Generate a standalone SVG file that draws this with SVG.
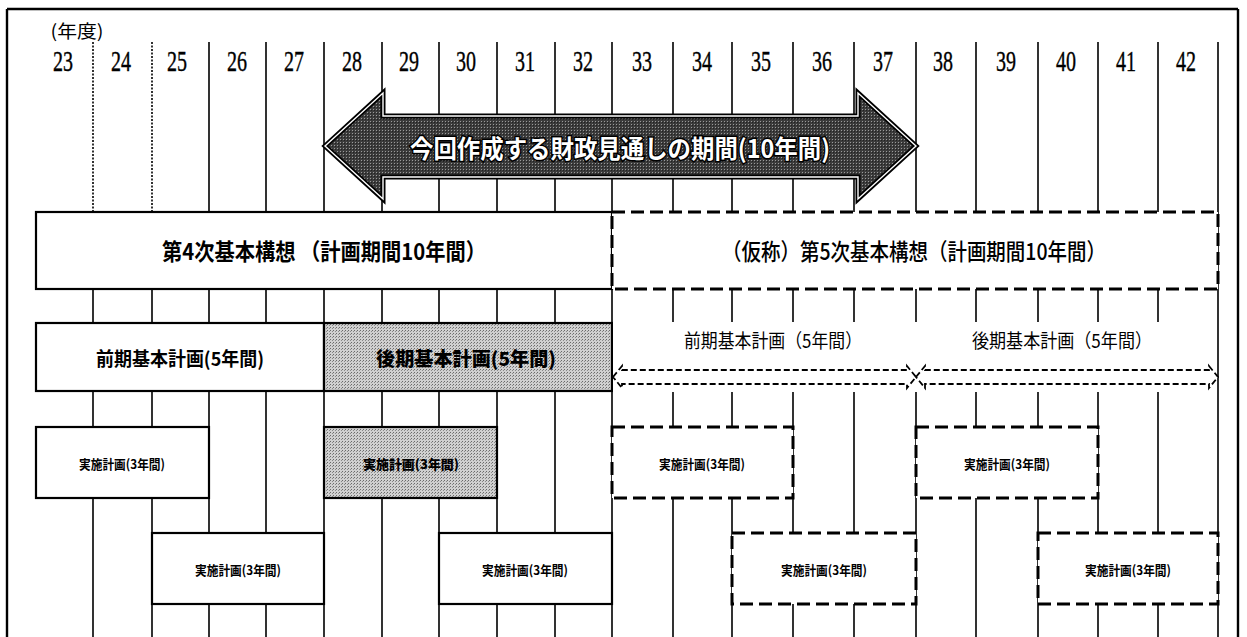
<svg xmlns="http://www.w3.org/2000/svg" width="1247" height="637" viewBox="0 0 1247 637">
<style>
.bg{fill:#fff}
.col{stroke:#000;stroke-width:1.6;fill:none}
.dot{stroke:#000;stroke-width:1.6;stroke-dasharray:2 1.5;fill:none}
.box{fill:#fff;stroke:#000;stroke-width:2.2}
.dbox{fill:#fff;stroke:#000;stroke-width:3;stroke-dasharray:13 6}
.sbox{fill:url(#shade);stroke:#000;stroke-width:2.2}
.darr{fill:#fff;stroke:#000;stroke-width:1.8;stroke-dasharray:6 3}
.yr{font-family:"Liberation Serif",serif;font-size:30px;text-anchor:middle;fill:#000;stroke:#000;stroke-width:0.4}
.jp{font-family:"Noto Sans CJK JP","Noto Sans CJK SC",sans-serif;text-anchor:middle;dominant-baseline:central;fill:#000}
.big{font-size:23px;font-weight:700}
.mid{font-size:19px;font-weight:700}
.lab{font-size:19px;font-weight:400}
.sm{font-size:13px;font-weight:700}
.nen{font-size:18px;font-weight:400}
.arrtxt{font-family:"Noto Sans CJK JP","Noto Sans CJK SC",sans-serif;font-size:25px;font-weight:700;text-anchor:middle;dominant-baseline:central;fill:#fff;stroke:#000;stroke-width:3;paint-order:stroke}
</style>
<defs>
<pattern id="shade" width="3" height="3" patternUnits="userSpaceOnUse">
<rect width="3" height="3" fill="#d0d0d0"/>
<rect x="0" y="0" width="1" height="1" fill="#6a6a6a"/>
<rect x="2" y="1" width="1" height="1" fill="#8a8a8a"/>
</pattern>
<pattern id="dark" width="3" height="3" patternUnits="userSpaceOnUse">
<rect width="3" height="3" fill="#3c3c3c"/>
<rect x="1" y="1" width="1" height="1" fill="#9a9a9a"/>
<rect x="2" y="2" width="1" height="1" fill="#222"/>
</pattern>
</defs>
<rect class="bg" width="1247" height="637"/>

<g id="frame">
<path class="col" d="M7,9 H1238 M7,9 V637 M1238,9 V637" style="stroke-width:2.4"/>
</g>

<g id="connectors">
<path class="dot" d="M93,42 V212 M152,42 V212"/>
<path class="col" d="M93,212 V637 M152,212 V637 M209,42 V637 M266,42 V637 M324,42 V637 M382,42 V637 M439,42 V637 M497,42 V637 M555,42 V637 M612,42 V637 M673,42 V637 M732,42 V637 M793,42 V637 M854,42 V637 M916,42 V637 M976,42 V637 M1038,42 V637 M1098,42 V637 M1158,42 V637 M1218,42 V637"/>
</g>

<g id="header">
<text class="jp nen" x="77" y="30" textLength="53" lengthAdjust="spacingAndGlyphs">(年度)</text>
<text class="yr" x="63" y="71" textLength="20" lengthAdjust="spacingAndGlyphs">23</text>
<text class="yr" x="121" y="71" textLength="20" lengthAdjust="spacingAndGlyphs">24</text>
<text class="yr" x="177" y="71" textLength="20" lengthAdjust="spacingAndGlyphs">25</text>
<text class="yr" x="237" y="71" textLength="20" lengthAdjust="spacingAndGlyphs">26</text>
<text class="yr" x="294" y="71" textLength="20" lengthAdjust="spacingAndGlyphs">27</text>
<text class="yr" x="352" y="71" textLength="20" lengthAdjust="spacingAndGlyphs">28</text>
<text class="yr" x="409" y="71" textLength="20" lengthAdjust="spacingAndGlyphs">29</text>
<text class="yr" x="466" y="71" textLength="20" lengthAdjust="spacingAndGlyphs">30</text>
<text class="yr" x="525" y="71" textLength="20" lengthAdjust="spacingAndGlyphs">31</text>
<text class="yr" x="583" y="71" textLength="20" lengthAdjust="spacingAndGlyphs">32</text>
<text class="yr" x="642" y="71" textLength="20" lengthAdjust="spacingAndGlyphs">33</text>
<text class="yr" x="702" y="71" textLength="20" lengthAdjust="spacingAndGlyphs">34</text>
<text class="yr" x="761" y="71" textLength="20" lengthAdjust="spacingAndGlyphs">35</text>
<text class="yr" x="822" y="71" textLength="20" lengthAdjust="spacingAndGlyphs">36</text>
<text class="yr" x="883" y="71" textLength="20" lengthAdjust="spacingAndGlyphs">37</text>
<text class="yr" x="943" y="71" textLength="20" lengthAdjust="spacingAndGlyphs">38</text>
<text class="yr" x="1006" y="71" textLength="20" lengthAdjust="spacingAndGlyphs">39</text>
<text class="yr" x="1066" y="71" textLength="20" lengthAdjust="spacingAndGlyphs">40</text>
<text class="yr" x="1126" y="71" textLength="20" lengthAdjust="spacingAndGlyphs">41</text>
<text class="yr" x="1186" y="71" textLength="20" lengthAdjust="spacingAndGlyphs">42</text>
</g>

<g id="period-arrow">
<path d="M325,146 L383,93 L383,116 L858,116 L858,93 L916,146 L858,199 L858,177 L383,177 L383,199 Z" fill="url(#dark)" stroke="#000" stroke-width="5" stroke-linejoin="miter"/>
<path d="M325,146 L383,93 L383,116 L858,116 L858,93 L916,146 L858,199 L858,177 L383,177 L383,199 Z" fill="none" stroke="#fff" stroke-width="1.4"/>
<text class="arrtxt" x="620" y="147" textLength="420" lengthAdjust="spacingAndGlyphs">今回作成する財政見通しの期間(10年間)</text>
</g>

<g id="plan4">
<rect class="box" x="36" y="212" width="576" height="77"/>
<text class="jp big" x="324" y="250" textLength="324" lengthAdjust="spacingAndGlyphs">第4次基本構想 （計画期間10年間）</text>
</g>
<g id="plan5">
<rect class="dbox" x="612" y="212" width="606" height="77"/>
<text class="jp big" x="914" y="250" textLength="384" lengthAdjust="spacingAndGlyphs" style="font-weight:500">（仮称）第5次基本構想（計画期間10年間）</text>
</g>

<g id="zenki4">
<rect class="box" x="36" y="323" width="288" height="68"/>
<text class="jp mid" x="180" y="357" textLength="168" lengthAdjust="spacingAndGlyphs">前期基本計画(5年間)</text>
</g>
<g id="koki4">
<rect class="sbox" x="324" y="323" width="288" height="68"/>
<text class="jp mid" x="466" y="357" textLength="180" lengthAdjust="spacingAndGlyphs" style="font-weight:900">後期基本計画(5年間)</text>
</g>

<g id="band5">
<rect x="613" y="322" width="604" height="70" fill="#fff"/>
</g>
<g id="zenki5">
<text class="jp lab" x="773" y="339" textLength="178" lengthAdjust="spacingAndGlyphs">前期基本計画（5年間）</text>
<path class="darr" d="M613,377 L622,366 L622,370 L907,370 L907,366 L916,377 L907,388 L907,384 L622,384 L622,388 Z"/>
</g>
<g id="koki5">
<text class="jp lab" x="1062" y="339" textLength="180" lengthAdjust="spacingAndGlyphs">後期基本計画（5年間）</text>
<path class="darr" d="M916,377 L925,366 L925,370 L1209,370 L1209,366 L1218,377 L1209,388 L1209,384 L925,384 L925,388 Z"/>
</g>

<g id="jisshi1">
<rect class="box" x="36" y="427" width="173" height="71"/>
<text class="jp sm" x="122" y="463" textLength="86" lengthAdjust="spacingAndGlyphs">実施計画(3年間)</text>
</g>
<g id="jisshi2">
<rect class="box" x="152" y="533" width="172" height="71"/>
<text class="jp sm" x="238" y="569" textLength="86" lengthAdjust="spacingAndGlyphs">実施計画(3年間)</text>
</g>
<g id="jisshi3">
<rect class="sbox" x="324" y="427" width="173" height="71"/>
<text class="jp sm" x="411" y="463" textLength="96" lengthAdjust="spacingAndGlyphs" style="font-weight:900">実施計画(3年間)</text>
</g>
<g id="jisshi4">
<rect class="box" x="439" y="533" width="173" height="71"/>
<text class="jp sm" x="525" y="569" textLength="86" lengthAdjust="spacingAndGlyphs">実施計画(3年間)</text>
</g>
<g id="jisshi5">
<rect class="dbox" x="612" y="427" width="181" height="71"/>
<text class="jp sm" x="702" y="463" textLength="86" lengthAdjust="spacingAndGlyphs">実施計画(3年間)</text>
</g>
<g id="jisshi6">
<rect class="dbox" x="732" y="533" width="184" height="71"/>
<text class="jp sm" x="824" y="569" textLength="86" lengthAdjust="spacingAndGlyphs">実施計画(3年間)</text>
</g>
<g id="jisshi7">
<rect class="dbox" x="916" y="427" width="182" height="71"/>
<text class="jp sm" x="1007" y="463" textLength="86" lengthAdjust="spacingAndGlyphs">実施計画(3年間)</text>
</g>
<g id="jisshi8">
<rect class="dbox" x="1038" y="533" width="180" height="71"/>
<text class="jp sm" x="1128" y="569" textLength="86" lengthAdjust="spacingAndGlyphs">実施計画(3年間)</text>
</g>
</svg>
